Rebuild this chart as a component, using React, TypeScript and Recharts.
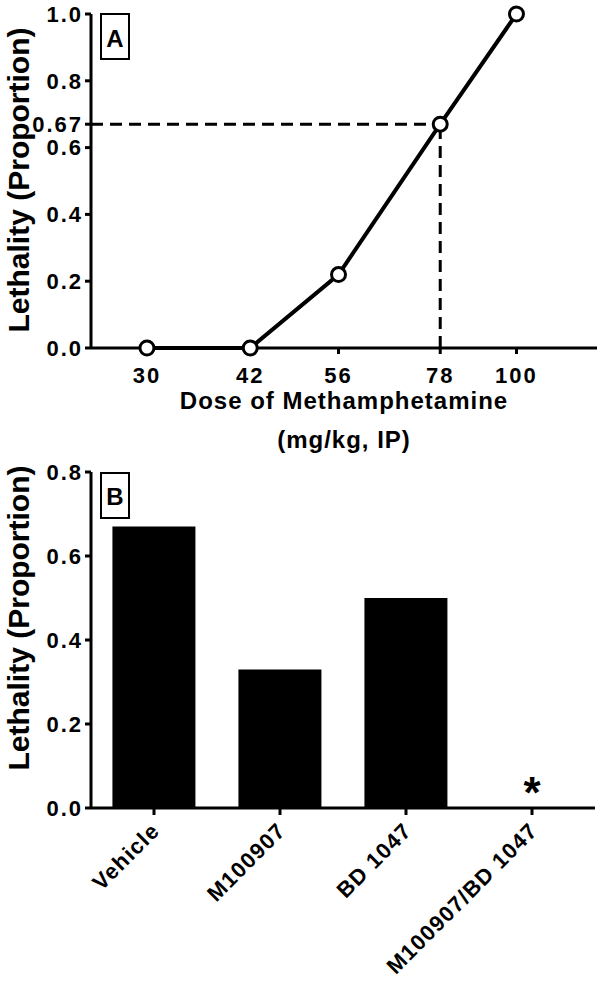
import React from 'react';
import {
  LineChart,
  Line,
  XAxis,
  YAxis,
  ReferenceLine,
  ReferenceDot,
  BarChart,
  Bar,
  Label,
} from 'recharts';

// ---------- Panel A data ----------
const doses = [30, 42, 56, 78, 100];
const lethalityA = [0, 0, 0.22, 0.67, 1.0];
const doseTicks = [30, 42, 56, 78, 100];
const yTicksA = [0, 0.2, 0.4, 0.6, 0.67, 0.8, 1.0];
const ld67Dose = 78;
const ld67Value = 0.67;

// ---------- Panel B data ----------
const groups = ['Vehicle', 'M100907', 'BD 1047', 'M100907/BD 1047'];
const lethalityB = [0.67, 0.33, 0.5, 0];
const signif = ['', '', '', '*'];
const yTicksB = [0, 0.2, 0.4, 0.6, 0.8];

const dataA = doses.map((d, i) => ({ dose: d, lethality: lethalityA[i] }));
const dataB = groups.map((g, i) => ({ group: g, lethality: lethalityB[i], sig: signif[i] }));

const FONT = '"Liberation Sans", Arial, Helvetica, sans-serif';
const tickStyle = { fill: '#000', fontSize: 22, fontWeight: 'bold', fontFamily: FONT, letterSpacing: 2 };
const axisLine = { stroke: '#000', strokeWidth: 3 };
const tickLine = { stroke: '#000', strokeWidth: 3 };

const fmtA = (v: number) => (Math.abs(v - 0.67) < 1e-9 ? '0.67' : v.toFixed(1));
const fmtB = (v: number) => v.toFixed(1);

const XTitleA = (props: any) => {
  const { x, y, width } = props.viewBox;
  const cx = x + width / 2;
  return (
    <text textAnchor="middle" fontFamily={FONT} fontSize={24} fontWeight="bold" fill="#000" letterSpacing={1}>
      <tspan x={cx} y={y + 61}>Dose of Methamphetamine</tspan>
      <tspan x={cx} y={y + 100}>(mg/kg, IP)</tspan>
    </text>
  );
};

const makeYTitle = (letter: string, centerY: number, boxTop: number, letterBase: number) => (props: any) => {
  return (
    <g>
      <text
        x={29}
        y={centerY}
        transform={`rotate(-90 29 ${centerY})`}
        textAnchor="middle"
        fontFamily={FONT}
        fontSize={30}
        fontWeight="bold"
        fill="#000"
      >
        Lethality (Proportion)
      </text>
      <rect x={101} y={boxTop} width={28} height={45} fill="#fff" stroke="#000" strokeWidth={2} />
      <text x={115} y={letterBase} textAnchor="middle" fontFamily={FONT} fontSize={24} fontWeight="bold" fill="#000">
        {letter}
      </text>
    </g>
  );
};

const YTitleA = makeYTitle('A', 180, 14, 47);
const YTitleB = makeYTitle('B', 158, 13, 45);

const RotTick = (props: any) => {
  const { x, y, payload } = props;
  const ax = x + 7;
  const ay = y + 17;
  return (
    <text
      x={ax}
      y={ay}
      transform={`rotate(-45 ${ax} ${ay})`}
      textAnchor="end"
      fontFamily={FONT}
      fontSize={22}
      fontWeight="bold"
      letterSpacing={1.2}
      fill="#000"
    >
      {payload.value}
    </text>
  );
};

const AsteriskLabel = (text: string) => (props: any) => {
  const vb = props.viewBox || {};
  const cx = (vb.x ?? 0) + (vb.width ?? 0) / 2;
  const cy = (vb.y ?? 0) + (vb.height ?? 0) / 2;
  return (
    <text x={cx} y={cy} textAnchor="middle" fontFamily={FONT} fontSize={44} fontWeight="bold" fill="#000">
      {text}
    </text>
  );
};

export default function App() {
  return (
    <div style={{ position: 'absolute', left: 0, top: 0, width: 600, height: 987, background: '#fff' }}>
      <div style={{ position: 'absolute', left: 0, top: 0 }}>
        <LineChart width={600} height={460} data={dataA} margin={{ top: 14, right: 3, bottom: 0, left: 0 }}>
          <XAxis
            dataKey="dose"
            type="number"
            scale="log"
            domain={[25, 130]}
            ticks={doseTicks}
            allowDataOverflow
            interval={0}
            height={112}
            axisLine={axisLine}
            tickLine={tickLine}
            tickSize={6}
            tickMargin={13}
            tick={tickStyle}
          >
            <Label content={XTitleA} />
          </XAxis>
          <YAxis
            type="number"
            domain={[0, 1]}
            ticks={yTicksA}
            interval={0}
            width={91}
            axisLine={axisLine}
            tickLine={tickLine}
            tickSize={6}
            tickMargin={2}
            tick={tickStyle}
            tickFormatter={fmtA}
          >
            <Label content={YTitleA} />
          </YAxis>
          <ReferenceLine
            segment={[{ x: 25, y: ld67Value }, { x: ld67Dose, y: ld67Value }]}
            stroke="#000"
            strokeWidth={3}
            strokeDasharray="12 7"
            ifOverflow="visible"
          />
          <ReferenceLine
            segment={[{ x: ld67Dose, y: 0 }, { x: ld67Dose, y: ld67Value }]}
            stroke="#000"
            strokeWidth={3}
            strokeDasharray="12 7"
            ifOverflow="visible"
          />
          <Line
            dataKey="lethality"
            stroke="#000"
            strokeWidth={4}
            dot={{ r: 7, fill: '#fff', stroke: '#000', strokeWidth: 3 }}
            isAnimationActive={false}
          />
        </LineChart>
      </div>
      <div style={{ position: 'absolute', left: 0, top: 460 }}>
        <BarChart
          width={600}
          height={527}
          data={dataB}
          margin={{ top: 12, right: 5, bottom: 0, left: 0 }}
          barCategoryGap="17%"
        >
          <XAxis
            dataKey="group"
            interval={0}
            height={179}
            axisLine={axisLine}
            tickLine={tickLine}
            tickSize={7}
            tickMargin={0}
            tick={<RotTick />}
          />
          <YAxis
            type="number"
            domain={[0, 0.8]}
            ticks={yTicksB}
            interval={0}
            width={91}
            axisLine={axisLine}
            tickLine={tickLine}
            tickSize={6}
            tickMargin={2}
            tick={tickStyle}
            tickFormatter={fmtB}
          >
            <Label content={YTitleB} />
          </YAxis>
          <Bar dataKey="lethality" fill="#000" isAnimationActive={false} />
          {dataB
            .filter((d) => d.sig)
            .map((d) => (
              <ReferenceDot
                key={d.group}
                x={d.group}
                y={d.lethality}
                r={0}
                fill="none"
                stroke="none"
                ifOverflow="visible"
                label={<Label content={AsteriskLabel(d.sig)} />}
              />
            ))}
        </BarChart>
      </div>
    </div>
  );
}
